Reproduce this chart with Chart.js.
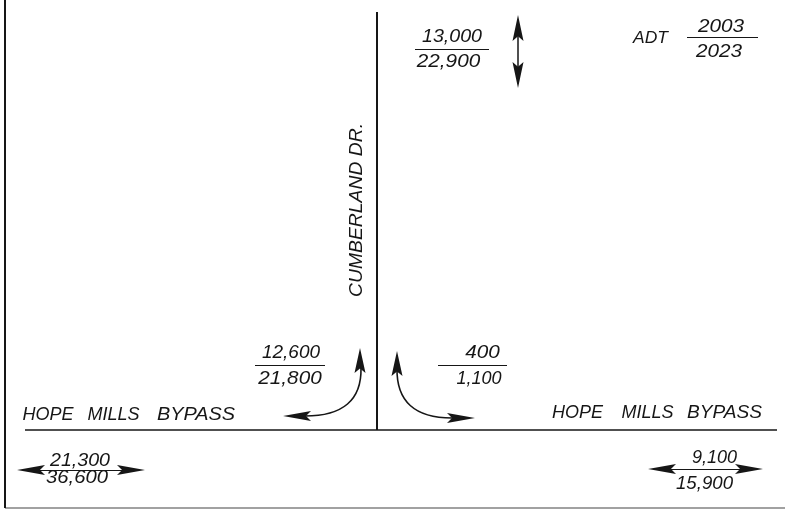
<!DOCTYPE html>
<html>
<head>
<meta charset="utf-8">
<script src="https://cdn.jsdelivr.net/npm/chart.js@4"></script>
<style>
html,body{margin:0;padding:0;background:#fff;}
#wrap{width:785px;height:511px;}
</style>
</head>
<body>
<div id="wrap"><canvas id="c" width="785" height="511"></canvas></div>
<script>
// ---------- DATA ----------
const roads = ['CUMBERLAND DR.', 'HOPE MILLS BYPASS'];
const legendTitle = 'ADT';
const years = ['2003', '2023'];
const movements = ['Cumberland Dr. (north)', 'Cumberland Dr. / Bypass west turns', 'Cumberland Dr. / Bypass east turns', 'Bypass west', 'Bypass east'];
const adt2003 = [13000, 12600, 400, 21300, 9100];
const adt2023 = [22900, 21800, 1100, 36600, 15900];

// ---------- LAYOUT (diagram geometry, in scale units) ----------
const labelBoxes = [
  {top:[422,482,42], bot:[415,482,67], bar:[415,489,49]},
  {top:[262,320,358], bot:[258,322,384], bar:[255,325,365]},
  {top:[465,500,358], bot:[460,498,384], bar:[438,507,365]},
  {top:[50,110,466], bot:[46,108,483], bar:null},
  {top:[692,737,463], bot:[676,733,489], bar:null}
];
const fmt = v => v.toLocaleString('en-US');
const INK = '#161616';
const FONT = '"Liberation Sans", Arial, sans-serif';

const diagramPlugin = {
  id: 'diagram',
  afterDraw(chart) {
    const ctx = chart.ctx, sx = chart.scales.x, sy = chart.scales.y;
    const X = v => sx.getPixelForValue(v), Y = v => sy.getPixelForValue(v);
    ctx.save();
    ctx.fillStyle = INK; ctx.strokeStyle = INK;
    ctx.textBaseline = 'alphabetic'; ctx.textAlign = 'left';

    function boxText(str, x0, x1, yb, size) {
      ctx.font = 'italic ' + size + 'px ' + FONT;
      const w = ctx.measureText(str).width;
      const target = X(x1) - X(x0);
      const s = Math.max(1.0, Math.min(1.15, target / w));
      const cx = (X(x0) + X(x1)) / 2;
      ctx.save();
      ctx.translate(cx - w * s / 2, Y(yb));
      ctx.scale(s, 1);
      ctx.fillText(str, 0, 0);
      ctx.restore();
    }
    function hline(x0, x1, y, lw) {
      ctx.lineWidth = lw; ctx.beginPath();
      ctx.moveTo(X(x0), Y(y) + 0.5); ctx.lineTo(X(x1), Y(y) + 0.5); ctx.stroke();
    }
    function head(tx, ty, dx, dy, len, hw) {
      const px = -dy, py = dx;
      const bx = X(tx) - dx * len, by = Y(ty) - dy * len;
      ctx.beginPath();
      ctx.moveTo(X(tx), Y(ty));
      ctx.lineTo(bx + px * hw, by + py * hw);
      ctx.lineTo(X(tx) - dx * len * 0.82, Y(ty) - dy * len * 0.82);
      ctx.lineTo(bx - px * hw, by - py * hw);
      ctx.closePath(); ctx.fill();
    }

    // ADT labels
    movements.forEach((m, i) => {
      const b = labelBoxes[i];
      boxText(fmt(adt2003[i]), b.top[0], b.top[1], b.top[2], 18);
      boxText(fmt(adt2023[i]), b.bot[0], b.bot[1], b.bot[2], 18);
      if (b.bar) hline(b.bar[0], b.bar[1], b.bar[2], 1);
    });

    // legend
    boxText(legendTitle, 633, 668, 43, 16);
    boxText(years[0], 697, 745, 32, 18);
    boxText(years[1], 695, 743, 57, 18);
    hline(687, 758, 37, 1);

    // road names
    const hw = roads[1].split(' ');
    [[25,71],[92,135],[157,235]].forEach((p, k) => boxText(hw[k], p[0], p[1], 420, 18));
    [[553,602],[622,673],[687,762]].forEach((p, k) => boxText(hw[k], p[0], p[1], 418, 18));
    ctx.save();
    ctx.translate(X(362), Y(297));
    ctx.rotate(-Math.PI / 2);
    ctx.font = 'italic 18px ' + FONT;
    const cw = ctx.measureText(roads[0]).width;
    ctx.scale((Y(297) - Y(123)) / cw, 1);
    ctx.fillText(roads[0], 0, 0);
    ctx.restore();

    // vertical double arrow (north leg)
    ctx.lineWidth = 1.5;
    ctx.beginPath(); ctx.moveTo(X(518), Y(30)); ctx.lineTo(X(518), Y(74)); ctx.stroke();
    head(518, 15, 0, -1, 26, 5.5);
    head(518, 88, 0, 1, 26, 5.5);

    // horizontal double arrows (bypass legs)
    hline(30, 132, 470, 1);
    head(17, 470, -1, 0, 28, 5);
    head(145, 470, 1, 0, 28, 5);
    hline(660, 750, 469, 1);
    head(648, 469, -1, 0, 28, 5);
    head(763, 469, 1, 0, 28, 5);

    // turning arrows
    ctx.lineWidth = 1.6;
    ctx.beginPath(); ctx.moveTo(X(361), Y(368));
    ctx.quadraticCurveTo(X(362), Y(416), X(305), Y(416)); ctx.stroke();
    head(360, 348, 0, -1, 25, 5.5);
    head(283, 416, -1, 0, 28, 5);
    ctx.beginPath(); ctx.moveTo(X(397), Y(368));
    ctx.quadraticCurveTo(X(396), Y(418), X(452), Y(418)); ctx.stroke();
    head(397, 351, 0, -1, 25, 5.5);
    head(475, 418, 1, 0, 28, 5);

    ctx.restore();
  }
};

const seg = (a, b) => ({data: [a, b], showLine: true, borderColor: INK, pointRadius: 0, fill: false});
new Chart(document.getElementById('c'), {
  type: 'scatter',
  data: {
    datasets: [
      Object.assign(seg({x:377,y:12},{x:377,y:430}), {borderWidth: 2}),
      Object.assign(seg({x:25,y:430},{x:777,y:430}), {borderWidth: 1.5}),
      Object.assign(seg({x:5,y:0},{x:5,y:508}), {borderWidth: 2}),
      Object.assign(seg({x:5,y:508},{x:785,y:508}), {borderWidth: 1.2, borderColor: '#444'})
    ]
  },
  options: {
    responsive: false,
    animation: false,
    layout: {padding: 0},
    plugins: {legend: {display: false}, tooltip: {enabled: false}},
    scales: {
      x: {type: 'linear', min: 0, max: 785, display: false},
      y: {type: 'linear', min: 0, max: 511, reverse: true, display: false}
    }
  },
  plugins: [diagramPlugin]
});
</script>
</body>
</html>
